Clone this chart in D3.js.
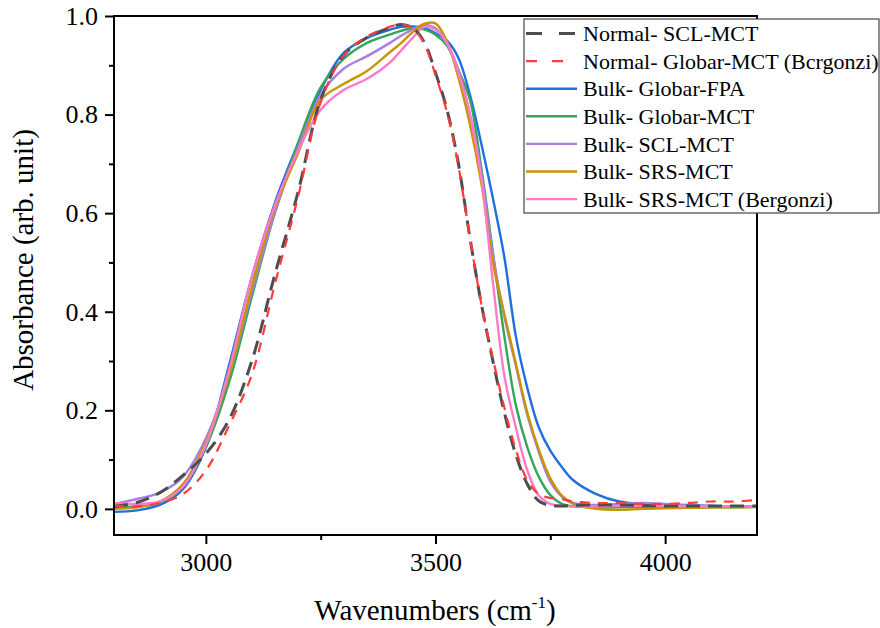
<!DOCTYPE html>
<html>
<head>
<meta charset="utf-8">
<script src="https://cdn.jsdelivr.net/npm/d3@7"></script>
<style>
  html, body { margin: 0; padding: 0; background: #fff; }
  svg { display: block; }
</style>
</head>
<body>
<svg id="chart" width="880" height="628"></svg>
<script>
// ---- data ----
const wavenumbers = [2800, 2850, 2900, 2950, 3000, 3050, 3100, 3150, 3200, 3250, 3300, 3350, 3400, 3425, 3450, 3475, 3500, 3525, 3550, 3575, 3600, 3625, 3650, 3675, 3700, 3725, 3750, 3775, 3800, 3850, 3900, 3950, 4000, 4050, 4100, 4150, 4200];

const normalSclMct = [0.005, 0.013, 0.033, 0.068, 0.112, 0.18, 0.30, 0.475, 0.64, 0.83, 0.92, 0.956, 0.976, 0.983, 0.976, 0.948, 0.885, 0.81, 0.70, 0.55, 0.415, 0.30, 0.195, 0.11, 0.05, 0.016, 0.007, 0.006, 0.007, 0.008, 0.008, 0.007, 0.006, 0.006, 0.006, 0.006, 0.006];
const normalGlobarMct = [0.006, 0.005, 0.012, 0.03, 0.078, 0.168, 0.272, 0.455, 0.63, 0.825, 0.92, 0.958, 0.978, 0.983, 0.975, 0.945, 0.88, 0.805, 0.695, 0.55, 0.415, 0.305, 0.205, 0.12, 0.058, 0.03, 0.022, 0.02, 0.015, 0.012, 0.012, 0.01, 0.01, 0.012, 0.015, 0.015, 0.018];
const bulkGlobarFpa = [-0.006, -0.003, 0.008, 0.04, 0.125, 0.29, 0.47, 0.62, 0.74, 0.85, 0.925, 0.955, 0.972, 0.978, 0.979, 0.976, 0.965, 0.95, 0.915, 0.84, 0.74, 0.63, 0.51, 0.35, 0.245, 0.165, 0.118, 0.085, 0.058, 0.03, 0.015, 0.01, 0.008, 0.007, 0.006, 0.005, 0.005];
const bulkGlobarMct = [0.003, 0.005, 0.012, 0.045, 0.125, 0.255, 0.43, 0.60, 0.74, 0.855, 0.913, 0.945, 0.962, 0.97, 0.975, 0.973, 0.962, 0.94, 0.89, 0.83, 0.69, 0.52, 0.35, 0.21, 0.125, 0.065, 0.028, 0.01, 0.005, 0.003, 0.003, 0.003, 0.003, 0.002, 0.003, 0.003, 0.004];
const bulkSclMct = [0.01, 0.02, 0.033, 0.065, 0.143, 0.27, 0.44, 0.60, 0.73, 0.84, 0.893, 0.918, 0.945, 0.96, 0.973, 0.982, 0.975, 0.945, 0.89, 0.80, 0.68, 0.515, 0.39, 0.29, 0.19, 0.115, 0.055, 0.025, 0.012, 0.008, 0.01, 0.012, 0.01, 0.008, 0.006, 0.005, 0.004];
const bulkSrsMct = [0.0, 0.003, 0.015, 0.05, 0.135, 0.27, 0.45, 0.61, 0.72, 0.83, 0.862, 0.888, 0.926, 0.945, 0.967, 0.984, 0.985, 0.948, 0.875, 0.78, 0.66, 0.50, 0.395, 0.295, 0.195, 0.12, 0.062, 0.027, 0.01, 0.0, -0.002, 0.0, 0.001, 0.002, 0.003, 0.003, 0.004];
const bulkSrsMctBergonzi = [0.012, 0.01, 0.015, 0.045, 0.13, 0.28, 0.47, 0.615, 0.725, 0.81, 0.85, 0.872, 0.905, 0.93, 0.955, 0.978, 0.972, 0.945, 0.885, 0.80, 0.67, 0.46, 0.27, 0.165, 0.078, 0.027, 0.01, 0.006, 0.005, 0.005, 0.006, 0.006, 0.006, 0.005, 0.005, 0.005, 0.005];

const seriesNames = ["Normal- SCL-MCT", "Normal- Globar-MCT (Bcrgonzi)", "Bulk- Globar-FPA", "Bulk- Globar-MCT", "Bulk- SCL-MCT", "Bulk- SRS-MCT", "Bulk- SRS-MCT (Bergonzi)"];
const seriesValues = [normalSclMct, normalGlobarMct, bulkGlobarFpa, bulkGlobarMct, bulkSclMct, bulkSrsMct, bulkSrsMctBergonzi];

const xMajorTicks = [3000, 3500, 4000];
const xMinorTicks = [3250, 3750];
const yMajorTicks = [0.0, 0.2, 0.4, 0.6, 0.8, 1.0];
const yMinorTicks = [0.1, 0.3, 0.5, 0.7, 0.9];

const xTitle = "Wavenumbers (cm";
const yTitle = "Absorbance (arb. unit)";

// ---- styles ----
const FONT = "'Liberation Serif', 'Times New Roman', Times, serif";
const styles = [
  { color: "#4d4d4d", width: 3, dash: "14,8" },
  { color: "#ff3b3b", width: 2.2, dash: "10,8" },
  { color: "#1f6fe0", width: 2.4, dash: null },
  { color: "#33a65c", width: 2.4, dash: null },
  { color: "#a77fe0", width: 2.4, dash: null },
  { color: "#c99400", width: 2.4, dash: null },
  { color: "#ff7ac8", width: 2.4, dash: null }
];

const svg = d3.select("#chart");
const plot = { left: 114, right: 757, top: 16, bottom: 535 };

const x = d3.scaleLinear().domain([2800, 4200]).range([plot.left, plot.right]);
const y = d3.scaleLinear().domain([-0.053, 1.0]).range([plot.bottom, plot.top]);

svg.append("defs").append("clipPath").attr("id", "clip")
  .append("rect").attr("x", plot.left).attr("y", plot.top)
  .attr("width", plot.right - plot.left).attr("height", plot.bottom - plot.top);

// lines
const line = d3.line().x(d => x(d[0])).y(d => y(d[1])).curve(d3.curveCatmullRom.alpha(0.5));
const gLines = svg.append("g").attr("clip-path", "url(#clip)");
const drawOrder = [2, 3, 4, 5, 6, 0, 1];
drawOrder.forEach(i => {
  const pts = wavenumbers.map((w, k) => [w, seriesValues[i][k]]);
  gLines.append("path")
    .attr("d", line(pts))
    .attr("fill", "none")
    .attr("stroke", styles[i].color)
    .attr("stroke-width", styles[i].width)
    .attr("stroke-dasharray", styles[i].dash)
    .attr("stroke-linejoin", "round");
});

// frame
svg.append("rect").attr("x", plot.left).attr("y", plot.top)
  .attr("width", plot.right - plot.left).attr("height", plot.bottom - plot.top)
  .attr("fill", "none").attr("stroke", "#000").attr("stroke-width", 2);

// axes
const xAxis = d3.axisBottom(x).tickValues(xMajorTicks).tickSize(9).tickPadding(9).tickFormat(d3.format("d"));
const gx = svg.append("g").attr("transform", `translate(0,${plot.bottom})`).call(xAxis);
const xAxisMinor = d3.axisBottom(x).tickValues(xMinorTicks).tickSize(5).tickFormat("");
const gxm = svg.append("g").attr("transform", `translate(0,${plot.bottom})`).call(xAxisMinor);

const yAxis = d3.axisLeft(y).tickValues(yMajorTicks).tickSize(9).tickPadding(7).tickFormat(d3.format(".1f"));
const gy = svg.append("g").attr("transform", `translate(${plot.left},0)`).call(yAxis);
const yAxisMinor = d3.axisLeft(y).tickValues(yMinorTicks).tickSize(5).tickFormat("");
const gym = svg.append("g").attr("transform", `translate(${plot.left},0)`).call(yAxisMinor);

[gx, gxm, gy, gym].forEach(g => {
  g.select(".domain").remove();
  g.attr("font-family", null);
  g.selectAll(".tick line").attr("stroke", "#000").attr("stroke-width", 2);
  g.selectAll(".tick text").style("font-family", FONT).style("font-size", "26px").attr("fill", "#000");
});
gx.selectAll(".tick text").attr("dy", "0.71em");

// axis titles
const xt = svg.append("text")
  .attr("x", 435).attr("y", 620)
  .attr("text-anchor", "middle")
  .style("font-family", FONT).style("font-size", "29px").attr("fill", "#000");
xt.append("tspan").text(xTitle);
xt.append("tspan").style("font-size", "17px").attr("dy", -12).text("-1");
xt.append("tspan").attr("dy", 12).text(")");

svg.append("text")
  .attr("transform", `translate(33,260) rotate(-90)`)
  .attr("text-anchor", "middle")
  .style("font-family", FONT).style("font-size", "29px").attr("fill", "#000")
  .text(yTitle);

// legend
const legend = { left: 524, top: 19, right: 879, bottom: 213, rowStart: 33.5, rowGap: 27.6 };
svg.append("rect")
  .attr("x", legend.left).attr("y", legend.top)
  .attr("width", legend.right - legend.left).attr("height", legend.bottom - legend.top)
  .attr("fill", "#fff").attr("stroke", "#555").attr("stroke-width", 1.3);

seriesNames.forEach((name, i) => {
  const cy = legend.rowStart + i * legend.rowGap;
  svg.append("line")
    .attr("x1", 526).attr("x2", 577).attr("y1", cy).attr("y2", cy)
    .attr("stroke", styles[i].color)
    .attr("stroke-width", styles[i].width)
    .attr("stroke-dasharray", i === 0 ? "16,17" : (i === 1 ? "11,15" : null));
  svg.append("text")
    .attr("x", 583).attr("y", cy).attr("dy", "0.35em")
    .style("font-family", FONT).style("font-size", "22px").attr("fill", "#000")
    .text(name);
});
</script>
</body>
</html>
